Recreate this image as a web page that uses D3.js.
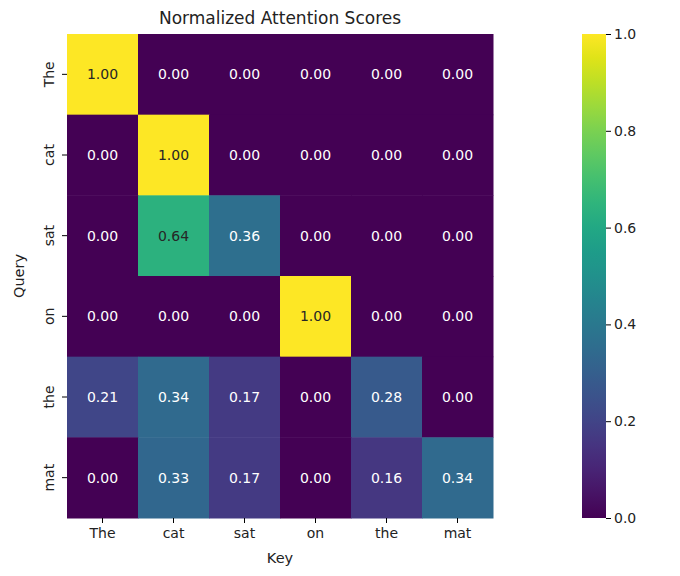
<!DOCTYPE html>
<html><head><meta charset="utf-8">
<script src="https://cdn.jsdelivr.net/npm/d3@7"></script>
<style>body{margin:0;background:#fff;font-family:"DejaVu Sans",sans-serif}
svg text{font-family:"DejaVu Sans",sans-serif}
.ax text{font-size:14px;fill:#222}</style>
</head><body><svg id="c" width="680" height="576"></svg>
<script>
// tokens and scores
const keys = ["The", "cat", "sat", "on", "the", "mat"];
const queries = ["The", "cat", "sat", "on", "the", "mat"];
const scores = [
  [1.00, 0.00, 0.00, 0.00, 0.00, 0.00],
  [0.00, 1.00, 0.00, 0.00, 0.00, 0.00],
  [0.00, 0.64, 0.36, 0.00, 0.00, 0.00],
  [0.00, 0.00, 0.00, 1.00, 0.00, 0.00],
  [0.21, 0.34, 0.17, 0.00, 0.28, 0.00],
  [0.00, 0.33, 0.17, 0.00, 0.16, 0.34]
];
const barTicks = [0, 0.2, 0.4, 0.6, 0.8, 1.0];

const svg = d3.select("#c");
const x = d3.scaleBand().domain(keys).range([67, 493]);
const y = d3.scaleBand().domain(d3.range(queries.length)).range([34, 518]);
const color = d3.scaleSequential(d3.interpolateViridis).domain([0, 1]);

// cells
const cells = [];
scores.forEach((row, i) => row.forEach((v, j) => cells.push({q: i, k: j, v: v})));
const g = svg.append("g");
g.selectAll("rect").data(cells).enter().append("rect")
  .attr("x", d => x(keys[d.k])).attr("y", d => y(d.q))
  .attr("width", x.bandwidth() + 0.5).attr("height", y.bandwidth() + 0.5)
  .attr("fill", d => color(d.v));
g.selectAll("text").data(cells).enter().append("text")
  .attr("x", d => x(keys[d.k]) + x.bandwidth() / 2)
  .attr("y", d => y(d.q) + y.bandwidth() / 2)
  .attr("text-anchor", "middle").attr("dominant-baseline", "central")
  .style("font-size", "14px")
  .attr("fill", d => d.v > 0.5 ? "#262626" : "#ffffff")
  .text(d => d.v.toFixed(2));

// axes
const xa = svg.append("g").attr("class", "ax").attr("transform", "translate(0,518)")
  .call(d3.axisBottom(x).tickSize(5).tickPadding(5));
xa.select(".domain").remove();
const ya = svg.append("g").attr("class", "ax").attr("transform", "translate(67,0)")
  .call(d3.axisLeft(y).tickSize(5).tickFormat(i => queries[i]));
ya.select(".domain").remove();
ya.selectAll("text")
  .attr("transform", "rotate(-90)").attr("x", 0).attr("y", -18)
  .attr("text-anchor", "middle").attr("dy", "0.35em");

svg.append("text").attr("x", 280).attr("y", 24).attr("text-anchor", "middle")
  .style("font-size", "17px").attr("fill", "#222").text("Normalized Attention Scores");
svg.append("text").attr("x", 280).attr("y", 563).attr("text-anchor", "middle")
  .style("font-size", "14.5px").attr("fill", "#222").text("Key");
svg.append("text").attr("transform", "translate(24,276) rotate(-90)").attr("text-anchor", "middle")
  .style("font-size", "14.5px").attr("fill", "#222").text("Query");

// colorbar
const defs = svg.append("defs");
const grad = defs.append("linearGradient").attr("id", "vg").attr("x1", 0).attr("y1", 1).attr("x2", 0).attr("y2", 0);
d3.range(0, 1.01, 0.05).forEach(t => grad.append("stop").attr("offset", t).attr("stop-color", color(t)));
const cb = d3.scaleLinear().domain([0, 1]).range([518, 34]);
svg.append("rect").attr("x", 582).attr("y", 34).attr("width", 24).attr("height", 484).attr("fill", "url(#vg)");
const ca = svg.append("g").attr("class", "ax").attr("transform", "translate(606,0)")
  .call(d3.axisRight(cb).tickValues(barTicks).tickFormat(d3.format(".1f")).tickSize(5));
ca.select(".domain").remove();
</script></body></html>
